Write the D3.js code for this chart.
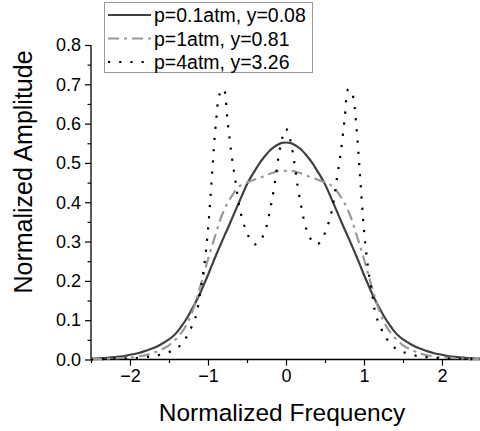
<!DOCTYPE html>
<html>
<head>
<meta charset="utf-8">
<script src="https://cdn.jsdelivr.net/npm/d3@7"></script>
<style>
  body { margin: 0; background: #fff; }
  svg { display: block; font-family: "Liberation Sans", Arial, sans-serif; }
</style>
</head>
<body>
<div id="chart"></div>
<script>
(function () {
"use strict";

// normalized frequency grid (shared by the three curves)
var freq = [-2.5, -2.4, -2.3, -2.2, -2.1, -2.0, -1.9, -1.8, -1.7, -1.6,
    -1.5, -1.45, -1.4, -1.35, -1.3, -1.25, -1.2, -1.15, -1.1, -1.05,
    -1.0, -0.95, -0.9, -0.85, -0.8, -0.75, -0.7, -0.65, -0.6, -0.55,
    -0.5, -0.45, -0.4, -0.35, -0.3, -0.25, -0.2, -0.15, -0.1, -0.05,
    0,
    0.05, 0.1, 0.15, 0.2, 0.25, 0.3, 0.35, 0.4, 0.45, 0.5,
    0.55, 0.6, 0.65, 0.7, 0.75, 0.8, 0.85, 0.9, 0.95, 1.0,
    1.05, 1.1, 1.15, 1.2, 1.25, 1.3, 1.35, 1.4, 1.45, 1.5,
    1.6, 1.7, 1.8, 1.9, 2.0, 2.1, 2.2, 2.3, 2.4, 2.5];

// p=0.1atm
var ampLow = [0.002, 0.003, 0.004, 0.006, 0.008, 0.012, 0.016, 0.022, 0.029, 0.039,
    0.051, 0.059, 0.069, 0.082, 0.096, 0.112, 0.130, 0.149, 0.169, 0.192,
    0.215, 0.240, 0.264, 0.287, 0.310, 0.332, 0.355, 0.378, 0.401, 0.424,
    0.446, 0.464, 0.480, 0.496, 0.510, 0.522, 0.533, 0.541, 0.547, 0.551,
    0.552,
    0.551, 0.547, 0.541, 0.533, 0.522, 0.510, 0.496, 0.480, 0.464, 0.446,
    0.424, 0.401, 0.378, 0.355, 0.332, 0.310, 0.287, 0.264, 0.240, 0.215,
    0.192, 0.169, 0.149, 0.130, 0.112, 0.096, 0.082, 0.069, 0.059, 0.051,
    0.039, 0.029, 0.022, 0.016, 0.012, 0.008, 0.006, 0.004, 0.003, 0.002];

// p=1atm
var ampMid = [0.001, 0.001, 0.002, 0.003, 0.004, 0.005, 0.008, 0.011, 0.017, 0.025,
    0.036, 0.045, 0.054, 0.066, 0.080, 0.098, 0.122, 0.152, 0.185, 0.220,
    0.255, 0.288, 0.320, 0.352, 0.377, 0.398, 0.414, 0.429, 0.440, 0.446,
    0.450, 0.454, 0.458, 0.462, 0.465, 0.469, 0.473, 0.476, 0.479, 0.480,
    0.480,
    0.480, 0.479, 0.476, 0.473, 0.469, 0.465, 0.462, 0.458, 0.454, 0.450,
    0.446, 0.440, 0.429, 0.414, 0.398, 0.377, 0.352, 0.320, 0.288, 0.255,
    0.220, 0.185, 0.152, 0.122, 0.098, 0.080, 0.066, 0.054, 0.045, 0.036,
    0.025, 0.017, 0.011, 0.008, 0.005, 0.004, 0.003, 0.002, 0.001, 0.001];

// p=4atm
var ampHigh = [0.000, 0.001, 0.001, 0.002, 0.002, 0.003, 0.004, 0.006, 0.008, 0.013,
    0.019, 0.023, 0.029, 0.037, 0.050, 0.066, 0.088, 0.114, 0.172, 0.236,
    0.330, 0.465, 0.598, 0.675, 0.688, 0.608, 0.523, 0.457, 0.390, 0.350,
    0.322, 0.302, 0.293, 0.298, 0.312, 0.338, 0.385, 0.440, 0.510, 0.562,
    0.587,
    0.562, 0.510, 0.440, 0.385, 0.338, 0.312, 0.298, 0.293, 0.302, 0.322,
    0.350, 0.390, 0.457, 0.523, 0.608, 0.688, 0.675, 0.598, 0.465, 0.330,
    0.236, 0.172, 0.114, 0.088, 0.066, 0.050, 0.037, 0.029, 0.023, 0.019,
    0.013, 0.008, 0.006, 0.004, 0.003, 0.002, 0.002, 0.001, 0.001, 0.000];

var seriesNames = ["p=0.1atm, y=0.08", "p=1atm, y=0.81", "p=4atm, y=3.26"];
var xTicks = [-2, -1, 0, 1, 2];
var yTicks = [0.0, 0.1, 0.2, 0.3, 0.4, 0.5, 0.6, 0.7, 0.8];

var width = 480,
    height = 431;

var x = d3.scaleLinear().domain([-2.5, 2.5]).range([91, 481]);
var y = d3.scaleLinear().domain([0, 0.8]).range([359.5, 45]);

var svg = d3.select("#chart").append("svg")
    .attr("width", width)
    .attr("height", height);

var styles = [
    {stroke: "#404040", width: 2.2, dash: null, cap: "butt"},
    {stroke: "#999999", width: 2.2, dash: "11,5,3,5", cap: "butt"},
    {stroke: "#000000", width: 2.2, dash: "2.2,9", cap: "butt"}
];
var allAmps = [ampLow, ampMid, ampHigh];

// axes
var xAxis = svg.append("g")
    .attr("transform", "translate(0," + y(0) + ")")
    .call(d3.axisBottom(x).tickValues(xTicks).tickSize(6).tickPadding(4)
        .tickFormat(d3.format("d")));
var xMinor = svg.append("g")
    .attr("transform", "translate(0," + y(0) + ")")
    .call(d3.axisBottom(x).tickValues([-2.5, -1.5, -0.5, 0.5, 1.5]).tickSize(3.5).tickFormat(""));

var yAxis = svg.append("g")
    .attr("transform", "translate(" + x(-2.5) + ",0)")
    .call(d3.axisLeft(y).tickValues(yTicks).tickSize(6).tickPadding(4)
        .tickFormat(d3.format(".1f")));
var yMinor = svg.append("g")
    .attr("transform", "translate(" + x(-2.5) + ",0)")
    .call(d3.axisLeft(y).tickValues([0.05, 0.15, 0.25, 0.35, 0.45, 0.55, 0.65, 0.75]).tickSize(3.5).tickFormat(""));

[xAxis, xMinor, yAxis, yMinor].forEach(function (g) {
    g.select(".domain").attr("d", null);
    g.selectAll("line").attr("stroke", "#000").attr("stroke-width", 1.2);
    g.selectAll("text")
        .attr("fill", "#000")
        .style("font-size", "18px")
        .style("font-family", "'Liberation Sans', Arial, sans-serif");
});

svg.append("line")
    .attr("x1", x(-2.5)).attr("x2", x(-2.5))
    .attr("y1", y(0.8)).attr("y2", y(0))
    .attr("stroke", "#000").attr("stroke-width", 1.3);
svg.append("line")
    .attr("x1", x(-2.5)).attr("x2", x(2.5))
    .attr("y1", y(0)).attr("y2", y(0))
    .attr("stroke", "#000").attr("stroke-width", 1.3);

// curves
var line = d3.line()
    .x(function (d) { return x(d[0]); })
    .y(function (d) { return y(d[1]); })
    .curve(d3.curveCatmullRom.alpha(0.5));

allAmps.forEach(function (amps, i) {
    var pts = freq.map(function (f, j) { return [f, amps[j]]; });
    svg.append("path")
        .attr("d", line(pts))
        .attr("fill", "none")
        .attr("stroke", styles[i].stroke)
        .attr("stroke-width", styles[i].width)
        .attr("stroke-dasharray", styles[i].dash)
        .attr("stroke-linecap", styles[i].cap);
});

// axis titles
svg.append("text")
    .attr("x", 282)
    .attr("y", 421)
    .attr("text-anchor", "middle")
    .style("font-size", "24.5px")
    .text("Normalized Frequency");

svg.append("text")
    .attr("transform", "translate(32,172) rotate(-90)")
    .attr("text-anchor", "middle")
    .style("font-size", "25px")
    .text("Normalized Amplitude");

// legend
var legend = svg.append("g");
legend.append("rect")
    .attr("x", 104.5).attr("y", 2.5)
    .attr("width", 208).attr("height", 70)
    .attr("fill", "#fff")
    .attr("stroke", "#999")
    .attr("stroke-width", 1);

seriesNames.forEach(function (name, i) {
    var ly = 15 + i * 23.5;
    legend.append("line")
        .attr("x1", 108).attr("x2", 151)
        .attr("y1", ly).attr("y2", ly)
        .attr("stroke", styles[i].stroke)
        .attr("stroke-width", styles[i].width)
        .attr("stroke-dasharray", styles[i].dash);
    legend.append("text")
        .attr("x", 154)
        .attr("y", ly + 7)
        .style("font-size", "19.5px")
        .text(name);
});

})();
</script>
</body>
</html>
